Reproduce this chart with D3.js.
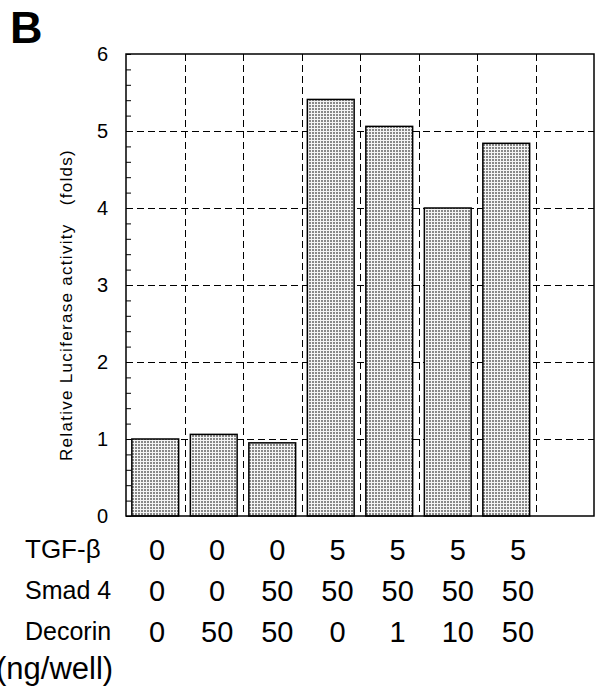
<!DOCTYPE html>
<html><head><meta charset="utf-8">
<script src="https://cdn.jsdelivr.net/npm/d3@7"></script>
<style>body{margin:0;background:#fff}svg{display:block;font-family:Arial,"Liberation Sans",sans-serif}</style>
</head><body><svg id="c" width="599" height="698"></svg>
<script>
const categories = ["c1","c2","c3","c4","c5","c6","c7","c8"];
const values = [1.0, 1.06, 0.95, 5.41, 5.06, 4.0, 4.84];
const yTicks = [0,1,2,3,4,5,6];
const rowLabels = ["TGF-\u03b2","Smad 4","Decorin"];
const tgf = ["0","0","0","5","5","5","5"];
const smad = ["0","0","50","50","50","50","50"];
const decorin = ["0","50","50","0","1","10","50"];
const unitLabel = "(ng/well)";
const yTitle = "Relative Luciferase activity\u00a0\u00a0\u00a0(folds)";

const svg = d3.select("#c");
const L=126, R=594, T=54, B=516;
const x = d3.scaleBand().domain(categories).range([L,R]).paddingInner(0.2).paddingOuter(0.1);
const xs = d3.scaleBand().domain(categories).range([L,R]);
const y = d3.scaleLinear().domain([0,6]).range([B,T]);
const cols = d3.scalePoint().domain(d3.range(7)).range([157,518]);

const defs = svg.append("defs");
const pat = defs.append("pattern").attr("id","dots").attr("width",3).attr("height",3).attr("patternUnits","userSpaceOnUse");
pat.append("rect").attr("width",3).attr("height",3).attr("fill","#f4f4f4");
pat.append("rect").attr("width",2).attr("height",2).attr("fill","#888");

// grid
const g = svg.append("g").attr("shape-rendering","crispEdges");
g.selectAll(".hg").data(yTicks.filter(d=>d>0&&d<6)).join("line")
 .attr("x1",L).attr("x2",R).attr("y1",d=>Math.round(y(d))+0.5).attr("y2",d=>Math.round(y(d))+0.5)
 .attr("stroke","#000").attr("stroke-width",1).attr("stroke-dasharray","7,4");
g.selectAll(".vg").data(categories.slice(1)).join("line")
 .attr("x1",d=>Math.round(xs(d))+0.5).attr("x2",d=>Math.round(xs(d))+0.5).attr("y1",T).attr("y2",B)
 .attr("stroke","#000").attr("stroke-width",1).attr("stroke-dasharray","7,4");

// bars
svg.append("g").selectAll("rect").data(values).join("rect")
 .attr("x",(d,i)=>x(categories[i])).attr("width",x.bandwidth())
 .attr("y",d=>y(d)).attr("height",d=>B-y(d))
 .attr("fill","url(#dots)").attr("stroke","#000").attr("stroke-width",1.5);

// frame
svg.append("rect").attr("x",L).attr("y",T).attr("width",R-L).attr("height",B-T)
 .attr("fill","none").attr("stroke","#000").attr("stroke-width",1.5);

// y axis with inside minor ticks
const ax = d3.axisLeft(y).tickValues(d3.range(0,6.001,0.2)).tickSize(-5).tickFormat("");
const axg = svg.append("g").attr("transform",`translate(${L},0)`).call(ax);
axg.select(".domain").remove();
axg.selectAll("line").attr("stroke","#000").attr("stroke-width",1);
const lab = d3.axisLeft(y).tickValues(yTicks).tickSize(0).tickPadding(18).tickFormat(d3.format("d"));
const lg = svg.append("g").attr("transform",`translate(${L},0)`).call(lab);
lg.attr("font-size",20).attr("font-family","Arial,'Liberation Sans',sans-serif");
lg.select(".domain").remove();
lg.selectAll("text").attr("fill","#000");

// y title
svg.append("text").attr("transform",`translate(72,305) rotate(-90)`)
 .attr("text-anchor","middle").attr("font-size",17).style("letter-spacing","1.3px").text(yTitle);

// panel letter
svg.append("text").attr("x",10).attr("y",43).attr("font-size",45).attr("font-weight","bold").text("B");

// bottom rows
const rows=[tgf,smad,decorin];
const rowC=[549,590,631];
const labSize=[26,25,25];
rows.forEach((r,ri)=>{
  svg.append("text").attr("x",25).attr("y",rowC[ri]+0.36*labSize[ri])
   .attr("font-size",labSize[ri]).text(rowLabels[ri]);
  svg.append("g").selectAll("text").data(r).join("text")
   .attr("x",(d,i)=>cols(i)).attr("y",rowC[ri]+10.5)
   .attr("text-anchor","middle").attr("font-size",29).text(d=>d);
});
svg.append("text").attr("x",-4).attr("y",679).attr("font-size",31).text(unitLabel);
</script></body></html>
